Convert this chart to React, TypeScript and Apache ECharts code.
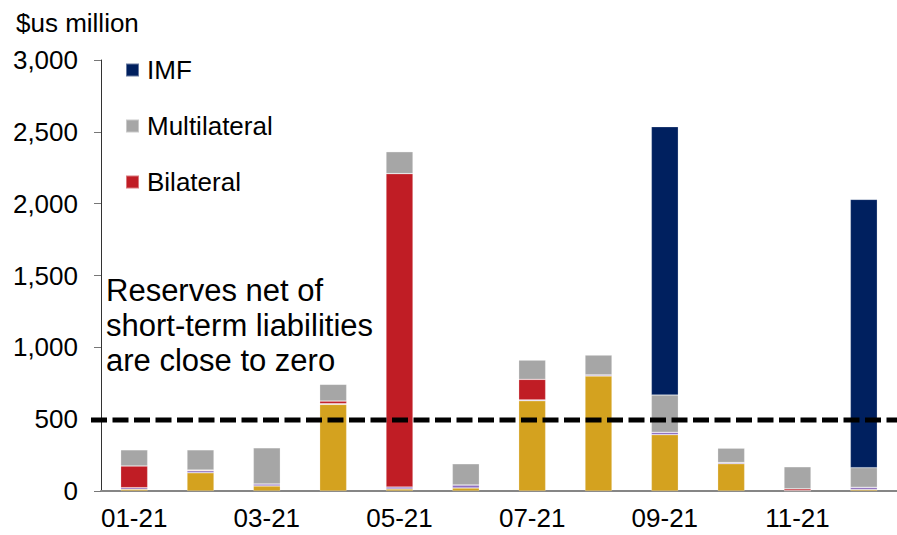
import React, { useEffect, useRef } from "react";
import * as echarts from "echarts";

const months = ["01-21", "02-21", "03-21", "04-21", "05-21", "06-21", "07-21", "08-21", "09-21", "10-21", "11-21", "12-21"];
const bonds = [12, 127, 35, 603, 14, 21, 628, 800, 392, 190, 3, 10];
const other = [11, 14, 14, 5, 14, 21, 6, 8, 17, 8, 0, 16];
const bilateral = [151, 5, 0, 18, 2181, 0, 143, 0, 0, 0, 12, 0];
const multilateral = [113, 141, 252, 117, 153, 148, 135, 139, 259, 101, 154, 136];
const imf = [0, 0, 0, 0, 0, 0, 0, 0, 1868, 0, 0, 1868];
const referenceLevel = 495;
const yTicks = { min: 0, max: 3000, interval: 500 };

const FONT = "'Liberation Sans', Arial, sans-serif";

export default function App() {
  const ref = useRef<HTMLDivElement>(null);
  useEffect(() => {
    if (!ref.current) return;
    const chart = echarts.init(ref.current, undefined, { renderer: "svg" });
    const border = { borderColor: "rgba(255,255,255,0.4)", borderWidth: 0.6 };
    const mk = (name: string, data: number[], color: string) => ({
      name,
      type: "bar",
      stack: "total",
      data,
      barWidth: 27,
      itemStyle: { color, ...border },
    });
    chart.setOption({
      animation: false,
      textStyle: { fontFamily: FONT },
      title: {
        text: "$us million",
        left: 11,
        top: 5,
        textStyle: { fontSize: 26, fontWeight: "normal", color: "#000", fontFamily: FONT },
      },
      legend: {
        data: ["IMF", "Multilateral", "Bilateral"],
        orient: "vertical",
        left: 125,
        top: 57,
        padding: 0,
        itemWidth: 13,
        itemHeight: 13,
        itemGap: 30,
        icon: "rect",
        textStyle: { fontSize: 26, color: "#000", lineHeight: 26, fontFamily: FONT, padding: [0, 0, 0, 3] },
      },
      grid: { left: 101, top: 60, bottom: 44, width: 805, containLabel: false },
      xAxis: {
        type: "category",
        data: months,
        axisLine: { lineStyle: { color: "#868686", width: 2 } },
        axisTick: { interval: 1, length: 6, lineStyle: { color: "#555" } },
        axisLabel: { interval: 1, fontSize: 26, color: "#000", margin: 14, fontFamily: FONT },
      },
      yAxis: {
        type: "value",
        min: yTicks.min,
        max: yTicks.max,
        interval: yTicks.interval,
        splitLine: { show: false },
        axisLine: { show: true, lineStyle: { color: "#333", width: 1 } },
        axisTick: { show: true, length: 7, lineStyle: { color: "#777" } },
        axisLabel: {
          fontSize: 26,
          color: "#000",
          margin: 23,
          fontFamily: FONT,
          formatter: (v: number) => v.toLocaleString("en-US"),
        },
      },
      series: [
        mk("Bonds", bonds, "#D4A21F"),
        mk("Other", other, "#8E6FBF"),
        mk("Bilateral", bilateral, "#C01D25"),
        mk("Multilateral", multilateral, "#A6A6A6"),
        mk("IMF", imf, "#00205F"),
      ],
    });
    const y = chart.convertToPixel({ yAxisIndex: 0 }, referenceLevel) as number;
    chart.setOption({
      graphic: [
        {
          type: "line",
          shape: { x1: 91, y1: y, x2: 897, y2: y },
          style: { stroke: "#000", lineWidth: 5, lineDash: [16, 5.5] },
          z: 10,
        },
        {
          type: "text",
          left: 106,
          top: 273,
          style: {
            text: "Reserves net of\nshort-term liabilities\nare close to zero",
            font: `31px ${FONT}`,
            lineHeight: 35,
            fill: "#000",
          },
          z: 10,
        },
      ],
    });
    return () => chart.dispose();
  }, []);
  return <div ref={ref} style={{ width: 897, height: 535, position: "absolute", left: 0, top: 0 }} />;
}
